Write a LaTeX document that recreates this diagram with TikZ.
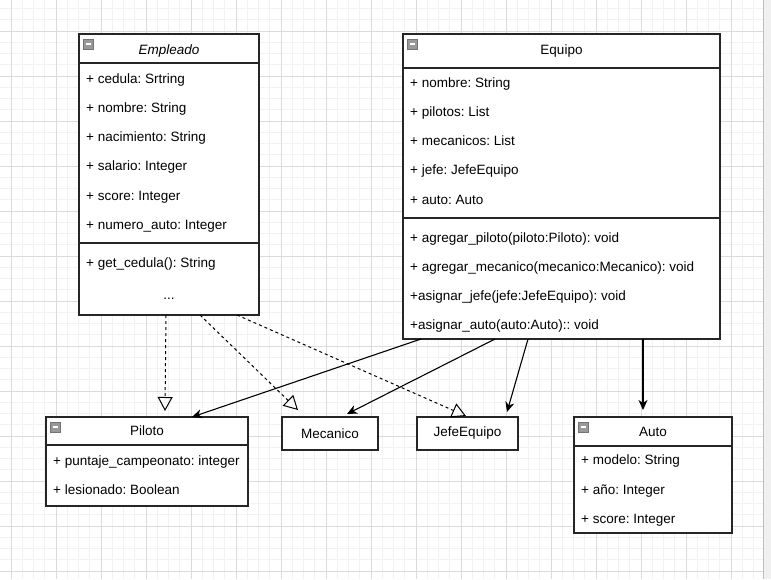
\documentclass[tikz,border=0pt]{standalone}
\usepackage{fontspec}
\setmainfont{Liberation Sans}
\usepackage{tikz}
\usetikzlibrary{arrows.meta}
\usetikzlibrary{positioning}
\usetikzlibrary{calc}
\frenchspacing

\tikzset{
  caja/.style={rectangle, draw=black!85, line width=1.1pt, fill=white, inner sep=0pt, outer sep=0pt},
  fila/.style={anchor=west, inner sep=0pt, text height=10pt, text depth=3pt},
  titulo/.style={inner sep=0pt, text height=10pt, text depth=3pt},
  finas/.style={black!5, line width=1pt},
  gruesas/.style={black!14, line width=1pt},
  realiza/.style={dashed, line width=1pt, -{Triangle[open, length=14pt, width=15pt]}},
  asocia/.style={line width=1.1pt, -{Stealth[length=10pt, width=9pt, inset=3pt]}}
}
% petit carré gris en haut à gauche
\newcommand{\menos}[1]{%
  \filldraw[fill=black!40, draw=black!55, line width=.8pt] ($(#1.north west)+(4,5)$) rectangle ++(10,10);
  \draw[white, line width=1.6pt] ($(#1.north west)+(6.5,10)$) -- ++(5,0);
}

\begin{document}
\begin{tikzpicture}[x=1pt, y=-1pt, font=\fontsize{13.5}{16}\selectfont]
    % fond blanc et grille
    \useasboundingbox (0,0) rectangle (771,579);
    \fill[white] (0,0) rectangle (771,579);
    \foreach \k in {0,...,67} \draw[finas] ({11+11.25*\k},0) -- ({11+11.25*\k},579);
    \foreach \k in {-2,...,48} \draw[finas] (0,{31+11.25*\k}) -- (771,{31+11.25*\k});
    \foreach \k in {0,...,16} \draw[gruesas] ({11+45*\k},0) -- ({11+45*\k},579);
    \foreach \k in {0,...,12} \draw[gruesas] (0,{31+45*\k}) -- (771,{31+45*\k});
    \fill[black!6] (763,0) rectangle (771,579);
    \draw[black!25] (763.5,0) -- (763.5,579);

    % Empleado
    \node[caja, minimum width=180pt, minimum height=29pt, anchor=north west] (emp) at (79,34) {};
    \node[caja, minimum width=180pt, minimum height=180pt, below=0pt of emp] (emp-a) {};
    \node[caja, minimum width=180pt, minimum height=72pt, below=0pt of emp-a] (emp-m) {};
    \menos{emp}
    \node[titulo] (emp-t) at (169,50.5) {\itshape Empleado};
    \foreach \t [count=\i from 0] in {{+ cedula: Srtring}, {+ nombre: String}, {+ nacimiento: String},
        {+ salario: Integer}, {+ score: Integer}, {+ numero\_auto: Integer}}
      \node[fila] (emp-a\i) at (86,{79.5+29.25*\i}) {\t};
    \node[fila] (emp-m0) at (86,263.5) {+ get\_cedula(): String};
    \node[titulo] (emp-m1) at (169,296) {...};

    % Equipo
    \node[caja, minimum width=317pt, minimum height=34pt, anchor=north west] (equ) at (403,34) {};
    \node[caja, minimum width=317pt, minimum height=150pt, below=0pt of equ] (equ-a) {};
    \node[caja, minimum width=317pt, minimum height=121pt, below=0pt of equ-a] (equ-m) {};
    \menos{equ}
    \node[titulo] (equ-t) at (561.5,50.5) {Equipo};
    \foreach \t [count=\i from 0] in {{+ nombre: String}, {+ pilotos: List}, {+ mecanicos: List},
        {+ jefe: JefeEquipo}, {+ auto: Auto}}
      \node[fila] (equ-a\i) at (410,{83.5+29.25*\i}) {\t};
    \foreach \t [count=\i from 0] in {{+ agregar\_piloto(piloto:Piloto): void},
        {+ agregar\_mecanico(mecanico:Mecanico): void},
        {+asignar\_jefe(jefe:JefeEquipo): void}, {+asignar\_auto(auto:Auto):: void}}
      \node[fila] (equ-m\i) at (410,{238.5+29.25*\i}) {\t};

    % Piloto
    \node[caja, minimum width=202pt, minimum height=28pt, anchor=north west] (piloto) at (46,417) {Piloto};
    \node[caja, minimum width=202pt, minimum height=61pt, below=0pt of piloto] (piloto-a) {};
    \menos{piloto}
    \node[fila] (piloto-a0) at (53,462) {+ puntaje\_campeonato: integer};
    \node[fila] (piloto-a1) at (53,490.5) {+ lesionado: Boolean};

    % Mecanico et JefeEquipo
    \node[caja, minimum width=96pt, minimum height=33pt, anchor=north west] (mecanico) at (282,417) {Mecanico};
    \node[caja, minimum width=101pt, minimum height=33pt, anchor=north west] (jefe) at (417,417) {JefeEquipo};

    % Auto
    \node[caja, minimum width=158pt, minimum height=29pt, anchor=north west] (auto) at (574,417) {Auto};
    \node[caja, minimum width=158pt, minimum height=87pt, below=0pt of auto] (auto-a) {};
    \menos{auto}
    \foreach \t [count=\i from 0] in {{+ modelo: String}, {+ año: Integer}, {+ score: Integer}}
      \node[fila] (auto-a\i) at (581,{461+29.5*\i}) {\t};

    % flèches pointillées
    \draw[realiza] ($(emp-m.south west)+(87,0)$) -- ($(piloto.north west)+(119,-6)$);
    \draw[realiza] ($(emp-m.south west)+(121,0)$) -- ($(mecanico.north west)+(16,-7)$);
    \draw[realiza] ($(emp-m.south west)+(158,0)$) -- ($(jefe.north west)+(49,-1)$);
    % associations
    \draw[asocia] ($(equ-m.south west)+(18,0)$) -- ($(piloto.north west)+(146,0)$);
    \draw[asocia] ($(equ-m.south west)+(92,0)$) -- ($(mecanico.north west)+(65,-3)$);
    \draw[asocia] ($(equ-m.south west)+(125,0)$) -- ($(jefe.north west)+(90,-5)$);
    \draw[asocia] ($(equ-m.south west)+(240,0)$) -- ($(auto.north west)+(69,-7)$);
\end{tikzpicture}
\end{document}
